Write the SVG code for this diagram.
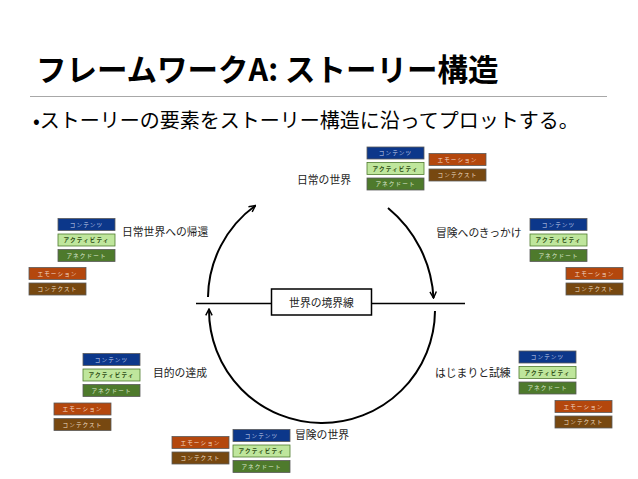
<svg xmlns="http://www.w3.org/2000/svg" width="638" height="479" viewBox="0 0 638 479">
<style>
  text { font-family: "Noto Sans CJK JP", "Noto Sans", sans-serif; }
  .title { font-size: 30.5px; font-weight: bold; fill: #000; }
  .sub { font-size: 20px; fill: #000; }
  .lbl { font-size: 10.8px; fill: #222; }
  .bx { stroke: #5a5a5a; stroke-width: 0.8; }
  .bt { font-size: 5.6px; letter-spacing: 1.1px; text-anchor: middle; }
  .c1 { fill: #0c378a; } .t1 { fill: #c9d3ee; }
  .c2 { fill: #bfe69c; stroke: #4f7a2e; } .t2 { fill: #2d4d14; font-weight: bold; }
  .c3 { fill: #4e7a2c; } .t3 { fill: #dce8cf; }
  .c4 { fill: #b4470d; } .t4 { fill: #f3d9c8; }
  .c5 { fill: #774810; } .t5 { fill: #f0dfc6; }
  .arc { fill: none; stroke: #000; stroke-width: 2; }
</style>
<defs>
  <marker id="ah" viewBox="0 0 10 10" refX="9" refY="5" markerWidth="8" markerHeight="8" markerUnits="userSpaceOnUse" orient="auto">
    <path d="M1,1 L9,5 L1,9" fill="none" stroke="#000" stroke-width="1.8"/>
  </marker>
</defs>
<rect width="638" height="479" fill="#fff"/>

<g id="header">
  <text class="title" x="36" y="81">フレームワークA: ストーリー構造</text>
  <line x1="30" y1="96.5" x2="607" y2="96.5" stroke="#a8a8a8" stroke-width="1"/>
  <text class="sub" x="33" y="128">•ストーリーの要素をストーリー構造に沿ってプロットする。</text>
</g>

<g id="connectors">
  <line x1="196" y1="303.5" x2="465" y2="303.5" stroke="#000" stroke-width="1.5"/>
  <path class="arc" d="M208,297 A115,115 0 0 1 255.5,205.5" marker-end="url(#ah)"/>
  <path class="arc" d="M388,208 A125,125 0 0 1 433.5,298" marker-end="url(#ah)"/>
  <path class="arc" d="M435,311 A113,113 0 0 1 209,309" marker-end="url(#ah)"/>
</g>

<g id="boundary">
  <rect x="271.5" y="289" width="100" height="26" fill="#fff" stroke="#000" stroke-width="1.5"/>
  <text class="lbl" x="321.5" y="306.5" text-anchor="middle">世界の境界線</text>
</g>

<g id="stage-ordinary-world">
  <text class="lbl" x="297" y="184">日常の世界</text>
  <rect class="bx c1" x="367" y="147" width="57" height="12"/><text class="bt t1" x="395.5" y="155.2">コンテンツ</text>
  <rect class="bx c2" x="367" y="162.5" width="57" height="12"/><text class="bt t2" x="395.5" y="170.7">アクティビティ</text>
  <rect class="bx c3" x="367" y="178" width="57" height="12"/><text class="bt t3" x="395.5" y="186.2">アネクドート</text>
  <rect class="bx c4" x="429" y="153.5" width="57" height="12"/><text class="bt t4" x="457.5" y="161.7">エモーション</text>
  <rect class="bx c5" x="429" y="169" width="57" height="12"/><text class="bt t5" x="457.5" y="177.2">コンテクスト</text>
</g>

<g id="stage-return">
  <text class="lbl" x="122" y="236">日常世界への帰還</text>
  <rect class="bx c1" x="58" y="218.5" width="57" height="12"/><text class="bt t1" x="86.5" y="226.7">コンテンツ</text>
  <rect class="bx c2" x="58" y="234" width="57" height="12"/><text class="bt t2" x="86.5" y="242.2">アクティビティ</text>
  <rect class="bx c3" x="58" y="249.5" width="57" height="12"/><text class="bt t3" x="86.5" y="257.7">アネクドート</text>
  <rect class="bx c4" x="29" y="267.5" width="57" height="12"/><text class="bt t4" x="57.5" y="275.7">エモーション</text>
  <rect class="bx c5" x="29" y="283" width="57" height="12"/><text class="bt t5" x="57.5" y="291.2">コンテクスト</text>
</g>

<g id="stage-call">
  <text class="lbl" x="436" y="236.5">冒険へのきっかけ</text>
  <rect class="bx c1" x="530" y="218.5" width="57" height="12"/><text class="bt t1" x="558.5" y="226.7">コンテンツ</text>
  <rect class="bx c2" x="530" y="234" width="57" height="12"/><text class="bt t2" x="558.5" y="242.2">アクティビティ</text>
  <rect class="bx c3" x="530" y="249.5" width="57" height="12"/><text class="bt t3" x="558.5" y="257.7">アネクドート</text>
  <rect class="bx c4" x="566" y="267.5" width="57" height="12"/><text class="bt t4" x="594.5" y="275.7">エモーション</text>
  <rect class="bx c5" x="566" y="283" width="57" height="12"/><text class="bt t5" x="594.5" y="291.2">コンテクスト</text>
</g>

<g id="stage-achievement">
  <text class="lbl" x="153" y="377">目的の達成</text>
  <rect class="bx c1" x="83" y="353.5" width="57" height="12"/><text class="bt t1" x="111.5" y="361.7">コンテンツ</text>
  <rect class="bx c2" x="83" y="369" width="57" height="12"/><text class="bt t2" x="111.5" y="377.2">アクティビティ</text>
  <rect class="bx c3" x="83" y="384.5" width="57" height="12"/><text class="bt t3" x="111.5" y="392.7">アネクドート</text>
  <rect class="bx c4" x="54" y="403" width="57" height="12"/><text class="bt t4" x="82.5" y="411.2">エモーション</text>
  <rect class="bx c5" x="54" y="418.5" width="57" height="12"/><text class="bt t5" x="82.5" y="426.7">コンテクスト</text>
</g>

<g id="stage-trials">
  <text class="lbl" x="435" y="377">はじまりと試練</text>
  <rect class="bx c1" x="519" y="351" width="57" height="12"/><text class="bt t1" x="547.5" y="359.2">コンテンツ</text>
  <rect class="bx c2" x="519" y="366.5" width="57" height="12"/><text class="bt t2" x="547.5" y="374.7">アクティビティ</text>
  <rect class="bx c3" x="519" y="382" width="57" height="12"/><text class="bt t3" x="547.5" y="390.2">アネクドート</text>
  <rect class="bx c4" x="555" y="400.5" width="57" height="12"/><text class="bt t4" x="583.5" y="408.7">エモーション</text>
  <rect class="bx c5" x="555" y="416" width="57" height="12"/><text class="bt t5" x="583.5" y="424.2">コンテクスト</text>
</g>

<g id="stage-adventure-world">
  <text class="lbl" x="295" y="438.5">冒険の世界</text>
  <rect class="bx c1" x="233" y="429.5" width="57" height="12"/><text class="bt t1" x="261.5" y="437.7">コンテンツ</text>
  <rect class="bx c2" x="233" y="445" width="57" height="12"/><text class="bt t2" x="261.5" y="453.2">アクティビティ</text>
  <rect class="bx c3" x="233" y="460.5" width="57" height="12"/><text class="bt t3" x="261.5" y="468.7">アネクドート</text>
  <rect class="bx c4" x="172" y="436.5" width="57" height="12"/><text class="bt t4" x="200.5" y="444.7">エモーション</text>
  <rect class="bx c5" x="172" y="452" width="57" height="12"/><text class="bt t5" x="200.5" y="460.2">コンテクスト</text>
</g>
</svg>
